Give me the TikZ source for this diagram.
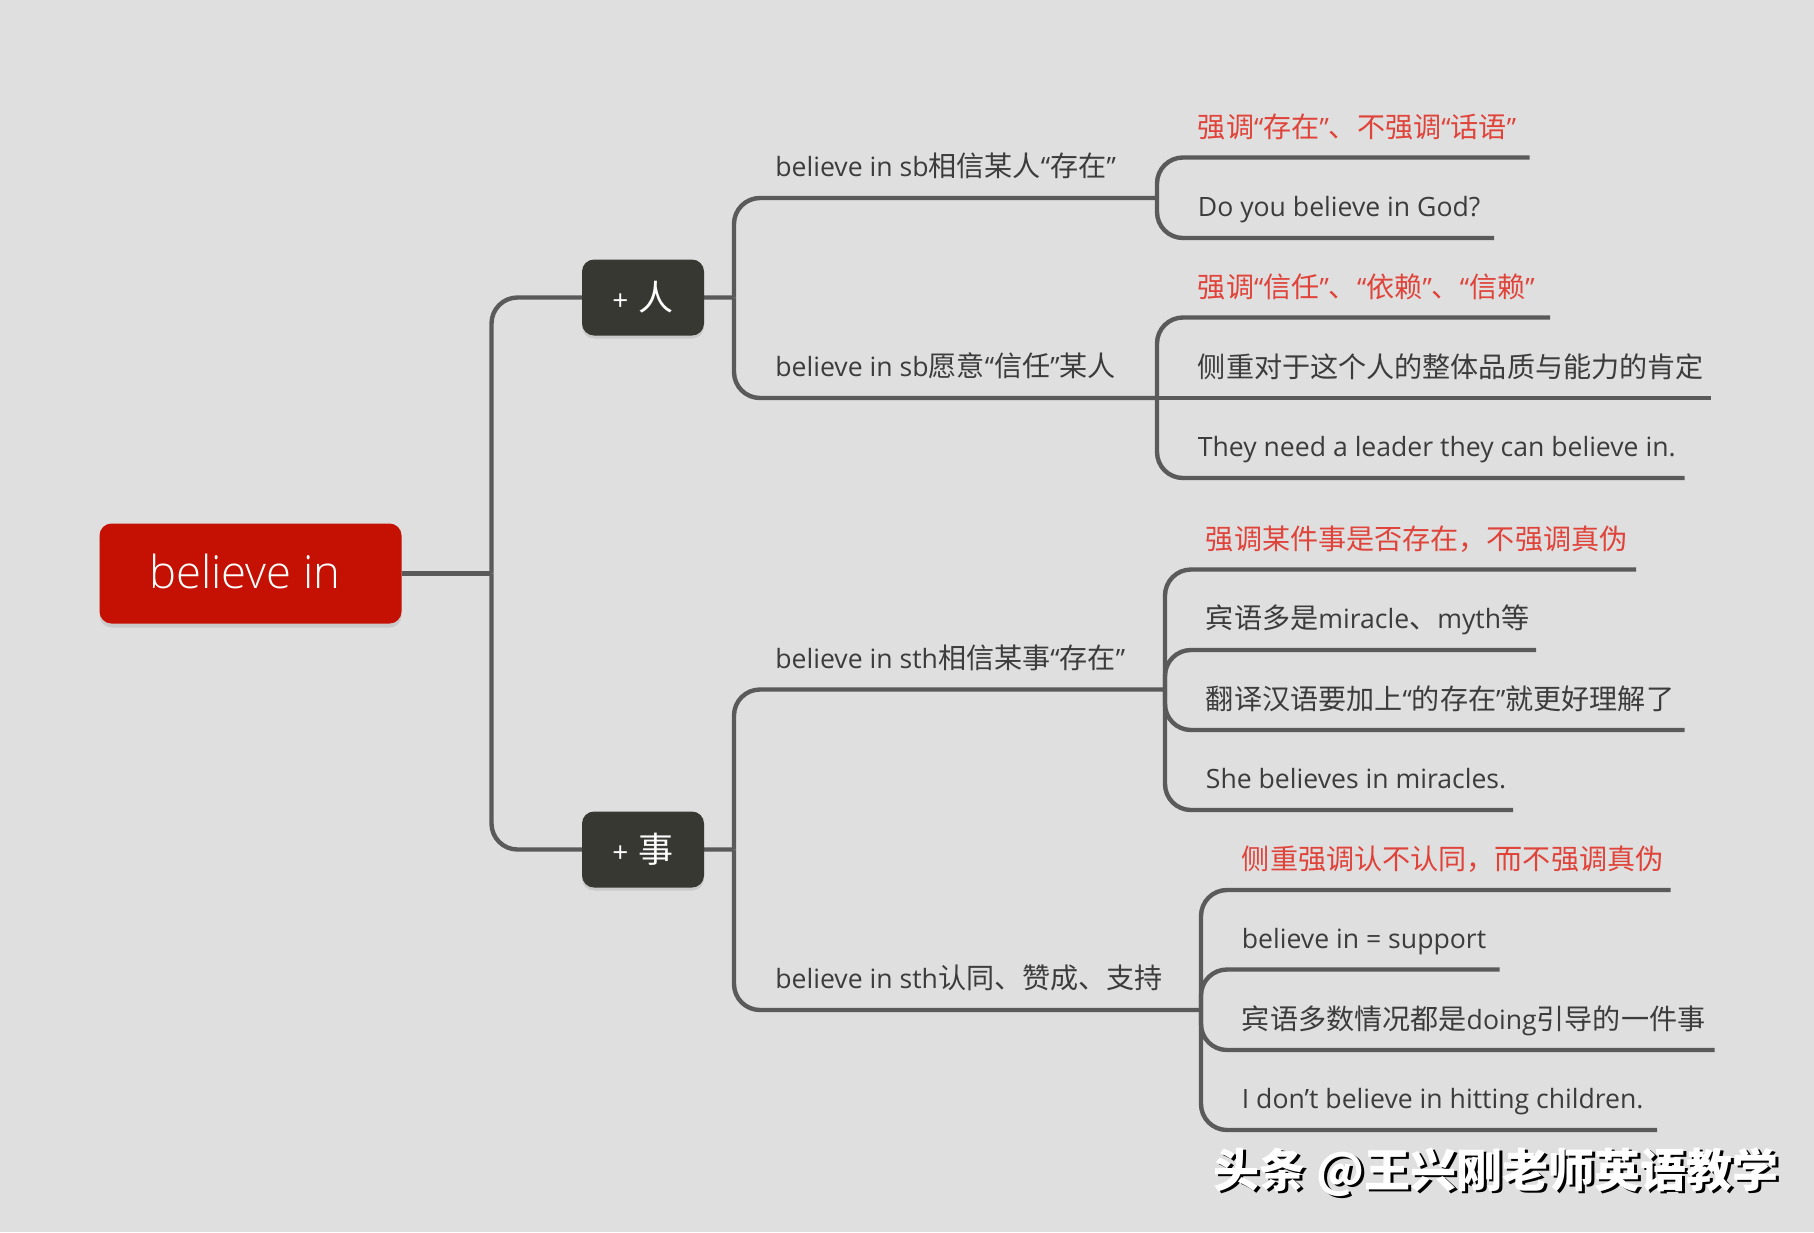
\documentclass[tikz,border=0pt]{standalone}
\usepackage{fontspec}
\usepackage{xcolor}
\usetikzlibrary{shadows}
\setmainfont{Open Sans}
\newfontfamily\cjk{Noto Sans CJK SC}
\newfontfamily\lightfont{Open Sans Light}
\newcommand{\zh}[1]{{\cjk\fontsize{14.05}{16}\selectfont #1}}
\definecolor{paper}{HTML}{DFDFDF}
\definecolor{wire}{HTML}{5A5A5A}
\definecolor{ink}{HTML}{3C3C3C}
\definecolor{redtxt}{HTML}{E0433A}
\definecolor{rootred}{HTML}{C41103}
\definecolor{boxdark}{HTML}{383833}
\tikzset{
  link/.style={draw=wire, line width=2.2pt, rounded corners=13pt},
  leaf/.style={text=ink, inner sep=0pt, anchor=base west, font=\fontsize{13.3}{15}\selectfont},
  redleaf/.style={leaf, text=redtxt},
  catbox/.style={fill=boxdark, text=white, rounded corners=6pt, minimum width=61pt, minimum height=38pt,
    inner sep=0pt, drop shadow={opacity=0.22, shadow xshift=0pt, shadow yshift=-1.5pt}, font=\fontsize{14}{16}\selectfont},
  rootbox/.style={fill=rootred, text=white, rounded corners=6pt, minimum width=151pt, minimum height=50pt,
    inner sep=0pt, drop shadow={opacity=0.22, shadow xshift=0pt, shadow yshift=-2pt}, font=\lightfont\fontsize{22.7}{28}\selectfont},
  markfont/.style={anchor=base west, inner sep=0pt, font=\cjk\bfseries\fontsize{23}{26}\selectfont},
}
\begin{document}
\begin{tikzpicture}[x=0.5pt,y=-0.5pt]
  \fill[paper] (0,0) rectangle (1814,1232);
  \useasboundingbox (0,0) rectangle (1814,1232);

  % trunks and junctions
  \coordinate (trunkA) at (491.5,573.5);
  \coordinate (trunkB) at (734,297.5);
  \coordinate (trunkC) at (734,849.5);
  \coordinate (jointA) at (1157,198);
  \coordinate (jointB) at (1157,398);
  \coordinate (jointC) at (1165,689.5);
  \coordinate (jointD) at (1201,1010);

  % line ends
  \coordinate (endA1) at (1529.5,157.5);
  \coordinate (endA2) at (1494,238);
  \coordinate (endB1) at (1550,317.5);
  \coordinate (endB2) at (1711,398);
  \coordinate (endB3) at (1684.5,478);
  \coordinate (endC1) at (1636,569.5);
  \coordinate (endC2) at (1536,650);
  \coordinate (endC3) at (1684.5,730);
  \coordinate (endC4) at (1513,810);
  \coordinate (endD1) at (1670.5,890);
  \coordinate (endD2) at (1499.5,969.5);
  \coordinate (endD3) at (1714.5,1050);
  \coordinate (endD4) at (1657,1130);

  \draw[link] (trunkA) |- (trunkB);
  \draw[link] (trunkA) |- (trunkC);
  \draw[link] (trunkB) |- (jointA);
  \draw[link] (trunkB) |- (jointB);
  \draw[link] (trunkC) |- (jointC);
  \draw[link] (trunkC) |- (jointD);

  \draw[link] (jointA) |- (endA1);
  \draw[link] (jointA) |- (endA2);
  \draw[link] (jointB) |- (endB1);
  \draw[link] (jointB) -- (endB2);
  \draw[link] (jointB) |- (endB3);
  \draw[link] (jointC) |- (endC1);
  \draw[link] (jointC) |- (endC2);
  \draw[link] (jointC) |- (endC3);
  \draw[link] (jointC) |- (endC4);
  \draw[link] (jointD) |- (endD1);
  \draw[link] (jointD) |- (endD2);
  \draw[link] (jointD) |- (endD3);
  \draw[link] (jointD) |- (endD4);

  \node[rootbox] (root) at (250.5,573.5) {\raisebox{2.3pt}{\kern-5.8pt believe in}};
  \node[catbox] (person) at (643,297.5) {+ \kern1.5pt\fontsize{17.5}{18}\selectfont\cjk 人};
  \node[catbox] (thing) at (643,849.5) {+ \kern1.5pt\fontsize{17.5}{18}\selectfont\cjk 事};
  \draw[link] (root.east) -- (trunkA);

  \node[leaf] (sbA) at (775,176) {believe in sb\zh{相信某人}“\zh{存在}”};
  \node[leaf] (sbB) at (775,376) {believe in sb\zh{愿意}“\zh{信任}”\zh{某人}};
  \node[leaf] (sthA) at (775,668) {believe in sth\zh{相信某事}“\zh{存在}”};
  \node[leaf] (sthB) at (775,988.5) {believe in sth\zh{认同、赞成、支持}};

  \node[redleaf] (noteA) at (1197.5,137) {\zh{强调}“\zh{存在}”\zh{、不强调}“\zh{话语}”};
  \node[leaf] (exA) at (1197.5,216) {Do you believe in God?};
  \node[redleaf] (noteB) at (1197.5,297) {\zh{强调}“\zh{信任}”\zh{、}“\zh{依赖}”\zh{、}“\zh{信赖}”};
  \node[leaf] (focusB) at (1197.5,377) {\zh{侧重对于这个人的整体品质与能力的肯定}};
  \node[leaf] (exB) at (1197.5,456) {They need a leader they can believe in.};

  \node[redleaf] (noteC) at (1205.5,549.5) {\zh{强调某件事是否存在，不强调真伪}};
  \node[leaf] (objC) at (1205.5,628) {\zh{宾语多是}miracle\zh{、}myth\zh{等}};
  \node[leaf] (tipC) at (1205.5,709) {\zh{翻译汉语要加上}“\zh{的存在}”\zh{就更好理解了}};
  \node[leaf] (exC) at (1205.5,788) {She believes in miracles.};

  \node[redleaf] (noteD) at (1241.5,869) {\zh{侧重强调认不认同，而不强调真伪}};
  \node[leaf] (eqD) at (1241.5,948) {believe in = support};
  \node[leaf] (objD) at (1241.5,1029) {\zh{宾语多数情况都是}doing\zh{引导的一件事}};
  \node[leaf] (exD) at (1241.5,1108) {I don’t believe in hitting children.};

  % watermark
  \node[markfont, text=black] (markback) at (1216.5,1189.5) {头条 @王兴刚老师英语教学};
  \node[markfont, text=white] (markfront) at (1213.5,1187) {头条 @王兴刚老师英语教学};
\end{tikzpicture}
\end{document}
